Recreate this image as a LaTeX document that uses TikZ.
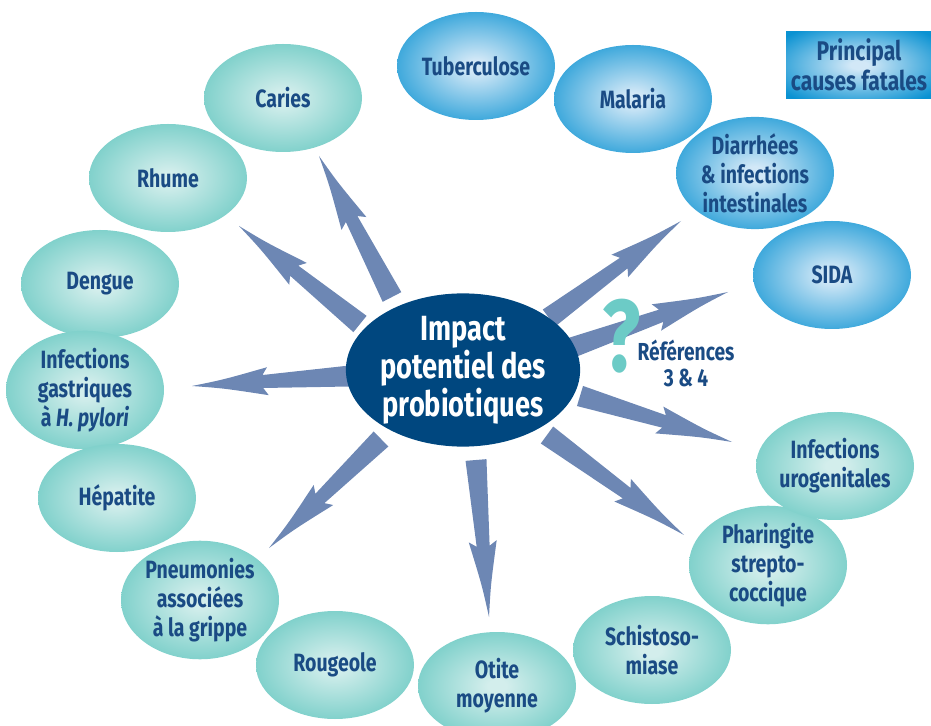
\documentclass[tikz,border=0pt]{standalone}
\usepackage{fontspec}
\setmainfont{Fira Sans}[FakeStretch=0.78]
\usetikzlibrary{shapes.geometric,calc}

\definecolor{tealin}{HTML}{D3EEEC}
\definecolor{tealout}{HTML}{5CC4BD}
\definecolor{bluein}{HTML}{D2E8F7}
\definecolor{blueout}{HTML}{0A92D2}
\definecolor{centrenavy}{HTML}{00477F}
\definecolor{textnavy}{HTML}{1A4B84}
\definecolor{arrowblue}{HTML}{6D87B4}
\definecolor{qteal}{HTML}{6CCBC6}

\pgfdeclareradialshading{tealball}{\pgfpointorigin}{color(0bp)=(tealin); color(3bp)=(tealin); color(35bp)=(tealout); color(50bp)=(tealout)}
\pgfdeclareradialshading{fatalball}{\pgfpointorigin}{color(0bp)=(bluein); color(3bp)=(bluein); color(33bp)=(blueout); color(50bp)=(blueout)}

\tikzset{
  illness/.style={ellipse, minimum width=79pt, minimum height=54pt, inner sep=0pt,
    shading=tealball, text=textnavy, align=center,
    font=\bfseries\fontsize{12.5}{14.5}\selectfont},
  fatal/.style={illness, shading=fatalball},
}

% tapered block arrow from #1 (tail) to #2 (tip)
\newcommand\probarrow[2]{%
  \coordinate (hb) at ($(#2)!38pt!(#1)$);
  \coordinate (hj) at ($(#2)!35.5pt!(#1)$);
  \coordinate (hc) at ($(#2)!16pt!(#1)$);
  \fill[arrowblue]
    ($(#1)!5.25pt!90:(#2)$) -- ($(hj)!3.25pt!90:(#2)$) -- ($(hb)!7pt!90:(#2)$)
    .. controls ($(hc)!2.2pt!90:(#2)$) .. (#2)
    .. controls ($(hc)!2.2pt!-90:(#2)$) .. ($(hb)!7pt!-90:(#2)$)
    -- ($(hj)!3.25pt!-90:(#2)$) -- ($(#1)!5.25pt!-90:(#2)$) -- cycle;
}

\begin{document}
\begin{tikzpicture}[x=0.5pt, y=-0.5pt]
\useasboundingbox (0,0) rectangle (931,726);

% Legend
\node[rectangle, minimum width=73pt, minimum height=33.5pt, inner sep=0pt,
  shading=fatalball, text=textnavy, align=center,
  font=\bfseries\fontsize{13.5}{15}\selectfont] (legend) at (859,65)
  {Principal\\causes fatales};

% Principal causes fatales
\node[fatal] (tuberculose) at (476,66) {Tuberculose};
\node[fatal] (malaria) at (633,99) {Malaria};
\node[fatal] (diarrhees) at (755,173) {Diarrhées\\\& infections\\intestinales};
\node[fatal] (sida) at (832,275) {SIDA};

% Other infections
\node[illness] (caries) at (283,98) {Caries};
\node[illness] (rhume) at (168,178) {Rhume};
\node[illness] (dengue) at (100,284) {Dengue};
\node[illness] (gastriques) at (85,390) {Infections\\gastriques\\à \textit{H. pylori}};
\node[illness] (hepatite) at (117,498) {Hépatite};
\node[illness] (pneumonies) at (200,600) {Pneumonies\\associées\\à la grippe};
\node[illness] (rougeole) at (335,665) {Rougeole};
\node[illness] (otite) at (497,686) {Otite\\moyenne};
\node[illness] (schisto) at (652,650) {Schistoso-\\miase};
\node[illness] (pharingite) at (768,565) {Pharingite\\strepto-\\coccique};
\node[illness] (urogenitales) at (835,466) {Infections\\urogenitales};

% Arrow ends
\coordinate (tcaries) at (392,297);   \coordinate (hcaries) at (319,156);
\coordinate (trhume) at (360,324);    \coordinate (hrhume) at (239,226);
\coordinate (tgastr) at (350,376);    \coordinate (hgastr) at (192,386);
\coordinate (tpneum) at (381,439);    \coordinate (hpneum) at (269,548);
\coordinate (totite) at (476,460);    \coordinate (hotite) at (489,617);
\coordinate (tphar) at (547,435);     \coordinate (hphar) at (684,535);
\coordinate (turo) at (580,396);      \coordinate (huro) at (732,442);
\coordinate (tsida) at (565,350);     \coordinate (hsida) at (728,292);
\coordinate (tdiarr) at (549,318);    \coordinate (hdiarr) at (681,221);

\probarrow{tcaries}{hcaries}
\probarrow{trhume}{hrhume}
\probarrow{tgastr}{hgastr}
\probarrow{tpneum}{hpneum}
\probarrow{totite}{hotite}
\probarrow{tphar}{hphar}
\probarrow{turo}{huro}
\probarrow{tsida}{hsida}
\probarrow{tdiarr}{hdiarr}

% Centre
\node[ellipse, fill=centrenavy, minimum width=105pt, minimum height=73pt, inner sep=0pt,
  text=white, align=center, font=\bfseries\fontsize{17.5}{16.5}\selectfont]
  (impact) at (463,370) {Impact\\potentiel des\\probiotiques};

% References
\node[text=qteal, font=\bfseries\fontsize{51}{51}\selectfont, inner sep=0pt]
  (question) at (622,336) {?};
\node[text=textnavy, align=center, font=\bfseries\fontsize{12.3}{13}\selectfont]
  (refs) at (686,363) {Références\\3 \& 4};
\end{tikzpicture}
\end{document}
